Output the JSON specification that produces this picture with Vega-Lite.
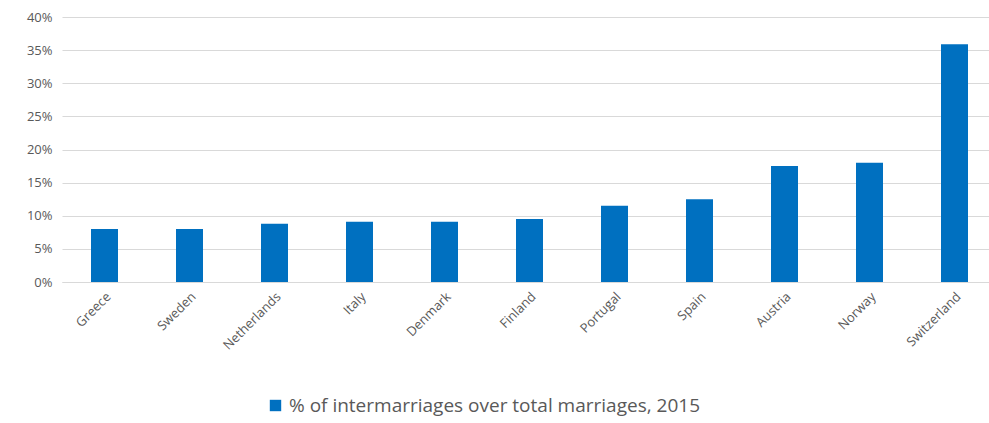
{
  "$schema": "https://vega.github.io/schema/vega-lite/v6.json",
  "width": 935,
  "height": 265,
  "autosize": {"type": "none"},
  "padding": {"left": 62, "top": 17, "right": 0, "bottom": 141},
  "background": "white",
  "data": {
    "values": [
      {"country": "Greece", "value": 0.080, "series": "% of intermarriages over total marriages, 2015"},
      {"country": "Sweden", "value": 0.080, "series": "% of intermarriages over total marriages, 2015"},
      {"country": "Netherlands", "value": 0.088, "series": "% of intermarriages over total marriages, 2015"},
      {"country": "Italy", "value": 0.091, "series": "% of intermarriages over total marriages, 2015"},
      {"country": "Denmark", "value": 0.091, "series": "% of intermarriages over total marriages, 2015"},
      {"country": "Finland", "value": 0.095, "series": "% of intermarriages over total marriages, 2015"},
      {"country": "Portugal", "value": 0.115, "series": "% of intermarriages over total marriages, 2015"},
      {"country": "Spain", "value": 0.125, "series": "% of intermarriages over total marriages, 2015"},
      {"country": "Austria", "value": 0.175, "series": "% of intermarriages over total marriages, 2015"},
      {"country": "Norway", "value": 0.180, "series": "% of intermarriages over total marriages, 2015"},
      {"country": "Switzerland", "value": 0.359, "series": "% of intermarriages over total marriages, 2015"}
    ]
  },
  "mark": {"type": "bar", "width": 27},
  "encoding": {
    "x": {
      "field": "country", "type": "nominal", "sort": null, "title": null,
      "axis": {"labelAngle": -45, "labelAlign": "right", "labelBaseline": "top", "ticks": false, "domainColor": "#d9d9d9", "labelColor": "#595959", "labelFontSize": 13, "labelPadding": 8}
    },
    "y": {
      "field": "value", "type": "quantitative", "title": null,
      "scale": {"domain": [0, 0.4]},
      "axis": {"format": ".0%", "values": [0,0.05,0.1,0.15,0.2,0.25,0.3,0.35,0.4], "labelOverlap": false, "domain": false, "ticks": false, "gridColor": "#d9d9d9", "labelColor": "#595959", "labelFontSize": 13, "labelPadding": 10}
    },
    "color": {
      "field": "series", "type": "nominal",
      "scale": {"range": ["#0070c0"]},
      "legend": {"orient": "none", "legendX": 204, "legendY": 379, "title": null, "symbolType": "square", "symbolSize": 130, "labelFontSize": 19, "labelLimit": 700, "labelColor": "#595959"}
    }
  },
  "config": {
    "font": "Open Sans",
    "view": {"stroke": null}
  }
}
